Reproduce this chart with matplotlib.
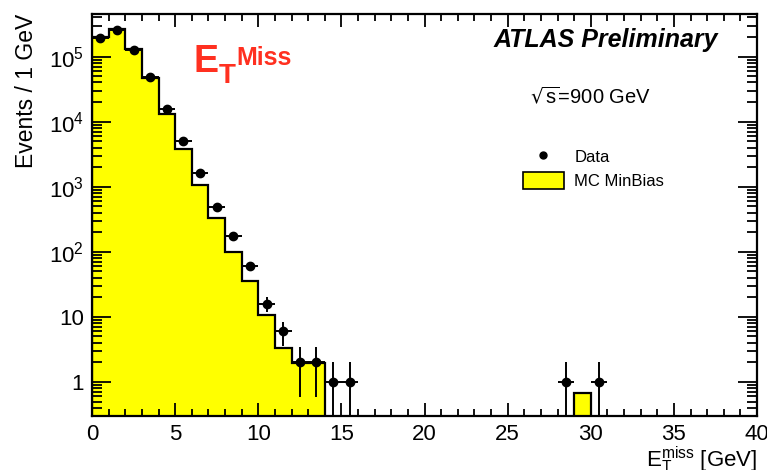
import matplotlib.pyplot as plt
import numpy as np
from matplotlib.ticker import FixedLocator, FuncFormatter, MultipleLocator, LogLocator, NullFormatter
from matplotlib.patches import Patch
from matplotlib.lines import Line2D

plt.rcParams['font.family'] = ['Liberation Sans', 'DejaVu Sans']

# 1 GeV bins from 0 to 40 GeV
bin_edges = np.arange(0, 41, 1)

# MC MinBias expectation per bin (0 where empty)
mc_counts = [2.0e5, 2.7e5, 1.32e5, 4.66e4, 1.3e4, 3.8e3, 1.05e3, 334, 100, 35,
             10.7, 3.3, 1.97, 1.97, 0, 0, 0, 0, 0, 0,
             0, 0, 0, 0, 0, 0, 0, 0, 0, 0.67,
             0, 0, 0, 0, 0, 0, 0, 0, 0, 0]

# data points: bin centres and counts
data_x = [0.5, 1.5, 2.5, 3.5, 4.5, 5.5, 6.5, 7.5, 8.5, 9.5, 10.5, 11.5,
          12.5, 13.5, 14.5, 15.5, 28.5, 30.5]
data_y = [1.95e5, 2.6e5, 1.28e5, 4.8e4, 1.56e4, 5.1e3, 1.6e3, 490, 172, 60, 16, 6,
          2, 2, 1, 1, 1, 1]

fig = plt.figure(figsize=(7.67, 4.7), dpi=100)
ax = fig.add_axes([0.12, 0.115, 0.867, 0.855])

ax.hist(bin_edges[:-1], bins=bin_edges, weights=mc_counts, histtype='stepfilled',
        facecolor='#ffff00', edgecolor='black', linewidth=1.6)

data_err = np.sqrt(data_y)
ax.errorbar(data_x, data_y, yerr=data_err, xerr=0.5, fmt='o', color='black',
            markersize=6, elinewidth=1.4, capsize=0)

ax.set_yscale('log')
ax.set_xlim(0, 40)
ax.set_ylim(0.3, 4.5e5)

ax.xaxis.set_major_locator(MultipleLocator(5))
ax.xaxis.set_minor_locator(MultipleLocator(1))
ax.yaxis.set_major_locator(FixedLocator([1, 10, 100, 1e3, 1e4, 1e5]))
ax.yaxis.set_minor_locator(LogLocator(base=10, subs=np.arange(2, 10), numticks=20))
ax.yaxis.set_minor_formatter(NullFormatter())


def ylabel_fmt(v, pos):
    if v == 1:
        return '1'
    if v == 10:
        return '10'
    return r'$\mathregular{10^{%d}}$' % round(np.log10(v))


ax.yaxis.set_major_formatter(FuncFormatter(ylabel_fmt))
ax.tick_params(which='both', direction='in', top=True, right=True, width=1.3)
ax.tick_params(which='major', labelsize=16, pad=6)
ax.tick_params(axis='y', which='major', length=14)
ax.tick_params(axis='y', which='minor', length=7)
ax.tick_params(axis='x', which='major', length=9.5)
ax.tick_params(axis='x', which='minor', length=5)
for s in ax.spines.values():
    s.set_linewidth(1.6)

ax.set_xlabel(r'$\mathregular{E_T^{miss}}$ [GeV]', fontsize=16, loc='right', labelpad=0)
ax.set_ylabel('Events / 1 GeV', fontsize=16.5, loc='top', labelpad=8)

ax.text(0.942, 0.935, 'ATLAS Preliminary', transform=ax.transAxes, ha='right',
        va='center', fontsize=18, fontweight='bold', style='italic')
ax.text(0.659, 0.795, r'$\mathregular{\sqrt{s}}$=900 GeV', transform=ax.transAxes,
        ha='left', va='center', fontsize=14.5)

# red E_T^Miss tag, built from three pieces
red = '#ff3020'
fig.text(193 / 767, 1 - 72 / 470, 'E', color=red, fontsize=27, fontweight='bold',
         ha='left', va='baseline')
fig.text(219 / 767, 1 - 83 / 470, 'T', color=red, fontsize=20, fontweight='bold',
         ha='left', va='baseline')
fig.text(236 / 767, 1 - 65 / 470, 'Miss', color=red, fontsize=18, fontweight='bold',
         ha='left', va='baseline')

handles = [Line2D([], [], marker='o', color='black', linestyle='none', markersize=5),
           Patch(facecolor='#ffff00', edgecolor='black', linewidth=1.2)]
ax.legend(handles, ['Data', 'MC MinBias'], loc='upper left',
          bbox_to_anchor=(0.625, 0.705), frameon=False, fontsize=12,
          handlelength=2.5, handleheight=1.2, labelspacing=0.45, handletextpad=0.6)

fig.savefig('out.png', dpi=100)
